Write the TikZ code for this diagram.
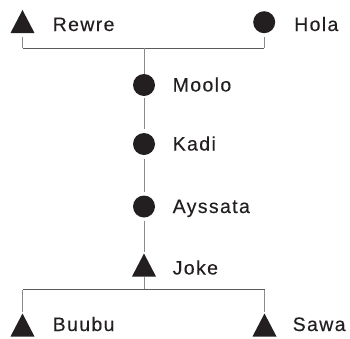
\documentclass[tikz,border=0pt]{standalone}
\usepackage{fontspec}
\setmainfont{Liberation Sans}[LetterSpace=7,FakeBold=0.3]
\definecolor{symb}{HTML}{231F20}
\definecolor{txt}{HTML}{231F20}
\definecolor{lgray}{HTML}{8A8A8A}
\definecolor{dgray}{HTML}{5A5A5A}
\begin{document}
\begin{tikzpicture}[x=1pt,y=-1pt,
  tri/.style={minimum width=24pt,minimum height=23pt,inner sep=0pt,outer sep=0pt,
    path picture={\fill[symb] (path picture bounding box.south west) -- (path picture bounding box.south east) -- (path picture bounding box.north) -- cycle;}},
  dot/.style={circle,fill=symb,minimum size=22pt,inner sep=0pt,outer sep=0pt},
  lbl/.style={anchor=base west,inner sep=0pt,font=\fontsize{19.5}{21}\selectfont,text=txt},
  vline/.style={draw=lgray,line width=1pt},
  hline/.style={draw=dgray,line width=1pt}]
\useasboundingbox (0,0) rectangle (350,338);
% top generation
\node[tri] (rewreS) at (22.5,21.5) {};
\node[lbl] (rewre) at (52.5,31) {Rewre};
\node[dot] (holaS) at (264.2,22.2) {};
\node[lbl] (hola) at (294,31) {Hola};
% line of descent
\node[dot] (mooloS) at (144,85) {};
\node[lbl] (moolo) at (172.5,91.5) {Moolo};
\node[dot] (kadiS) at (144,144) {};
\node[lbl] (kadi) at (172.5,150.5) {Kadi};
\node[dot] (aysS) at (144,206.5) {};
\node[lbl] (ays) at (172.5,213) {Ayssata};
\node[tri] (jokeS) at (144,265) {};
\node[lbl] (joke) at (172.5,274.5) {Joke};
% children
\node[tri] (buubuS) at (22.5,325) {};
\node[lbl] (buubu) at (52.5,331) {Buubu};
\node[tri] (sawaS) at (264.5,325) {};
\node[lbl] (sawa) at (292.5,331) {Sawa};
% junction coordinates
\coordinate (jl) at (22.5,48);
\coordinate (jc) at (144,48);
\coordinate (jr) at (264.2,48);
\coordinate (bl) at (22.5,289.5);
\coordinate (bc) at (144,289.5);
\coordinate (br) at (264.5,289.5);
% connectors
\draw[vline] ([yshift=-3.5pt]rewreS.south) -- (jl);
\draw[vline] ([yshift=-3.5pt]holaS.south) -- (jr);
\draw[hline] (jl) -- (jr);
\draw[vline] (jc) -- (mooloS.north);
\draw[vline,shorten <=2pt,shorten >=4pt] (mooloS.south) -- (kadiS.north);
\draw[vline,shorten <=4pt,shorten >=4pt] (kadiS.south) -- (aysS.north);
\draw[vline,shorten <=3pt,shorten >=2pt] (aysS.south) -- (jokeS.north);
\draw[vline] (jokeS.south) -- (bc);
\draw[hline] (bl) -- (br);
\draw[vline,shorten >=2pt] (bl) -- (buubuS.north);
\draw[vline,shorten >=2pt] (br) -- (sawaS.north);
\end{tikzpicture}
\end{document}
